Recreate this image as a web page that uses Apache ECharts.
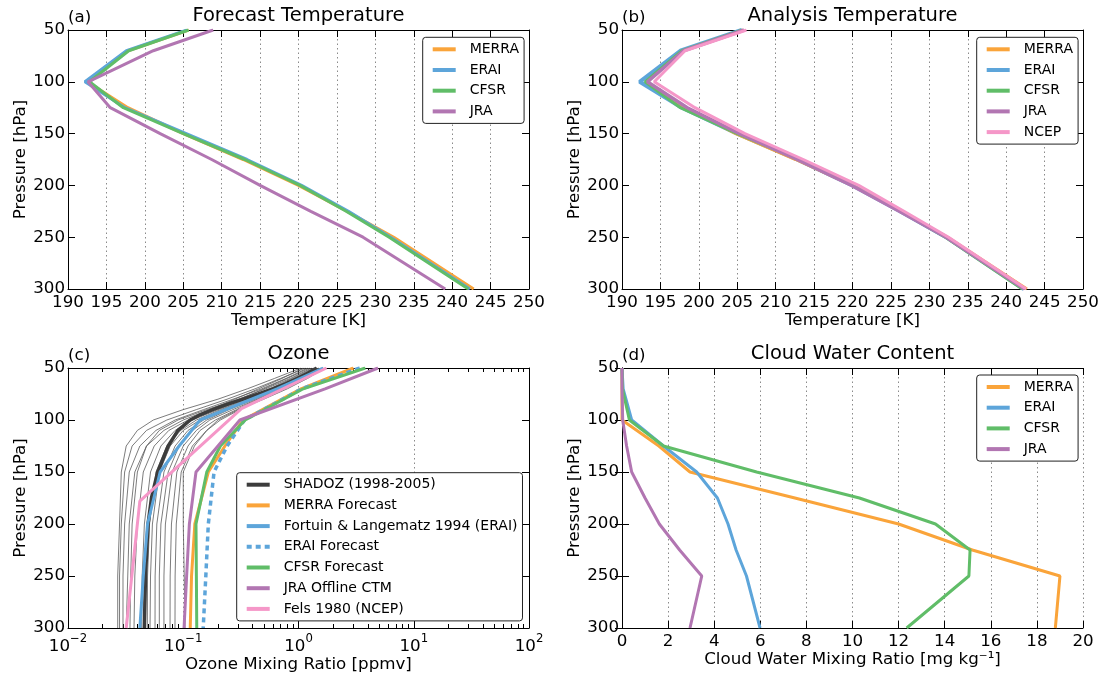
<!DOCTYPE html>
<html>
<head>
<meta charset="utf-8">
<script src="https://cdn.jsdelivr.net/npm/echarts@6/dist/echarts.min.js"></script>
<style>
html,body{margin:0;padding:0;background:#fff;}
#c{width:1102px;height:674px;}
</style>
</head>
<body>
<div id="c"></div>
<script>
// ---------------- DATA ----------------
const P_LEVELS = [50, 70, 100, 125, 150, 175, 200, 225, 250, 300];

// (a) Forecast temperature [K]
const FC_MERRA = [205.7, 197.8, 192.5, 197.8, 205.0, 212.8, 220.0, 226.3, 232.4, 242.8];
const FC_ERAI  = [205.5, 197.6, 192.2, 197.4, 205.4, 213.3, 220.4, 226.5, 232.0, 242.3];
const FC_CFSR  = [205.7, 197.9, 192.8, 197.2, 205.0, 213.0, 220.2, 226.2, 231.8, 242.1];
const FC_JRA   = [208.9, 201.1, 192.6, 195.5, 202.0, 208.7, 215.0, 221.6, 228.4, 239.1];

// (b) Analysis temperature [K]
const AN_MERRA = [205.8, 197.9, 193.2, 198.3, 204.8, 212.6, 220.0, 226.3, 232.4, 242.7];
const AN_ERAI  = [205.6, 197.6, 192.3, 197.8, 205.0, 212.8, 220.0, 226.2, 232.2, 242.3];
const AN_CFSR  = [205.7, 197.8, 193.0, 197.6, 205.0, 213.0, 220.2, 226.2, 232.1, 242.1];
const AN_JRA   = [205.9, 198.0, 193.3, 198.5, 205.3, 212.8, 219.9, 226.1, 232.2, 242.4];
const AN_NCEP  = [206.2, 198.2, 194.2, 199.5, 206.0, 213.6, 220.8, 226.7, 232.5, 242.6];

// (c) Ozone [ppmv]
const G_LEVELS = [50, 60, 70, 80, 90, 100, 110, 125, 150, 200, 250, 300];
const SHADOZ_PROFILES = [
  [1.05, 0.62, 0.36, 0.20, 0.10, 0.055, 0.040, 0.032, 0.029, 0.028, 0.027, 0.027],
  [1.15, 0.70, 0.42, 0.24, 0.13, 0.072, 0.048, 0.036, 0.031, 0.029, 0.028, 0.028],
  [1.20, 0.78, 0.48, 0.27, 0.15, 0.085, 0.058, 0.042, 0.034, 0.031, 0.030, 0.030],
  [1.10, 0.72, 0.45, 0.28, 0.17, 0.100, 0.068, 0.048, 0.038, 0.034, 0.033, 0.032],
  [1.30, 0.85, 0.52, 0.30, 0.16, 0.090, 0.062, 0.048, 0.040, 0.036, 0.035, 0.0345],
  [1.25, 0.80, 0.50, 0.31, 0.18, 0.110, 0.075, 0.056, 0.045, 0.040, 0.038, 0.0374],
  [1.35, 0.88, 0.56, 0.34, 0.20, 0.120, 0.085, 0.064, 0.052, 0.046, 0.044, 0.0436],
  [1.40, 0.92, 0.58, 0.36, 0.21, 0.130, 0.095, 0.072, 0.058, 0.051, 0.049, 0.0488],
  [1.45, 0.95, 0.62, 0.38, 0.22, 0.140, 0.100, 0.077, 0.062, 0.054, 0.052, 0.0515],
  [1.50, 1.00, 0.65, 0.40, 0.24, 0.150, 0.110, 0.085, 0.068, 0.059, 0.057, 0.0569],
  [1.55, 1.05, 0.68, 0.42, 0.25, 0.160, 0.120, 0.092, 0.074, 0.064, 0.062, 0.062],
  [1.60, 1.10, 0.72, 0.44, 0.27, 0.170, 0.130, 0.100, 0.080, 0.070, 0.068, 0.068],
  [1.50, 1.05, 0.70, 0.45, 0.29, 0.190, 0.140, 0.110, 0.088, 0.079, 0.077, 0.0768],
  [1.65, 1.15, 0.76, 0.48, 0.31, 0.210, 0.160, 0.120, 0.096, 0.087, 0.085, 0.0848],
  [1.70, 1.20, 0.80, 0.50, 0.30, 0.200, 0.160, 0.125, 0.100, 0.100, 0.102, 0.1035]
];
const SHADOZ_LEVELS = [50, 55, 60, 65, 70, 75, 80, 85, 90, 95, 100, 110, 125, 150, 175, 200, 250, 300];
const SHADOZ_MEAN   = [1.44, 1.2, 0.98, 0.78, 0.6, 0.45, 0.33, 0.24, 0.18, 0.14, 0.115, 0.09, 0.074, 0.06, 0.053, 0.0495, 0.047, 0.046];
const O3_LEVELS   = [50, 70, 100, 125, 150, 200, 250, 300];
const O3_MERRA    = [3.0, 1.05, 0.33, 0.23, 0.165, 0.126, 0.118, 0.115];
const O3_FORTUIN  = [1.64, 0.65, 0.14, 0.092, 0.063, 0.049, 0.045, 0.042];
const O3_ERAI_FC  = [3.4, 1.07, 0.34, 0.24, 0.185, 0.165, 0.157, 0.149];
const O3_CFSR     = [3.8, 1.1, 0.345, 0.21, 0.16, 0.129, 0.13, 0.131];
const O3_JRA      = [4.9, 1.7, 0.31, 0.2, 0.129, 0.113, 0.107, 0.1016];
const FELS_LEVELS = [50, 89, 178, 300];
const O3_FELS     = [1.75, 0.32, 0.042, 0.032];

// (d) Cloud water [mg/kg]
const CW_MERRA = [0, 0, 0, 1.6, 2.95, 7.5, 12.0, 15.2, 19.0, 18.8];
const CW_ERAI  = [0, 0.05, 0.42, 1.8, 3.24, 4.14, 4.6, 4.95, 5.4, 5.99];
const CW_CFSR  = [0, 0.02, 0.32, 1.8, 5.84, 10.3, 13.6, 15.1, 15.05, 12.35];
const CW_JRA   = [0, 0, 0.03, 0.2, 0.42, 1.0, 1.62, 2.5, 3.46, 2.95];

// tick settings
const T_TICKS = {min: 190, max: 250, interval: 5};
const P_TICKS = {min: 50, max: 300, interval: 50};
const CW_TICKS = {min: 0, max: 20, interval: 2};
const O3_RANGE = {min: 0.01, max: 100};

// ---------------- STYLE ----------------
const FONT = 'DejaVu Sans';
const C = {
  orange: '#FAA43A', blue: '#5DA5DA', green: '#60BD68',
  purple: '#B276B2', pink: '#F597C8', black: '#3c3c3c', grey: '#5a5a5a'
};
const GRIDS = [
  {left: 68, top: 30, width: 461, height: 259},
  {left: 622, top: 30, width: 461, height: 259},
  {left: 68, top: 368, width: 461, height: 260},
  {left: 622, top: 368, width: 461, height: 260}
];

function pairs(xs, ps) { return xs.map((x, i) => [x, ps[i]]); }

const axisLine = {show: true, lineStyle: {color: '#000', width: 1}};
const tick = {show: true, inside: true, length: 7, lineStyle: {color: '#000', width: 1}};
const labelStyle = {color: '#000', fontSize: 16.7, fontFamily: FONT};
const gridLine = {show: true, lineStyle: {color: '#8a8a8a', type: [1.5, 3], width: 1}};

function sup(v) {
  const e = Math.round(Math.log10(v));
  return '{b|10}{s|' + (e < 0 ? '\u2212' + (-e) : e) + '}';
}

const xAxes = [], yAxes = [];
function addX(gi, cfg, name, extraLabel) {
  const isLog = cfg.type === 'log';
  const base = Object.assign({gridIndex: gi, type: 'value'}, cfg);
  xAxes.push(Object.assign({}, base, {
    position: 'bottom',
    name: name, nameLocation: 'middle', nameGap: isLog ? 28 : 23,
    nameTextStyle: {color: '#000', fontSize: 16.7, fontFamily: FONT},
    axisLine, axisTick: tick,
    minorTick: isLog ? {show: true, splitNumber: 9, length: 4, lineStyle: {color: '#000'}} : {show: false},
    axisLabel: Object.assign({margin: 5}, labelStyle, extraLabel || {}),
    splitLine: gridLine
  }));
  xAxes.push(Object.assign({}, base, {
    position: 'top', axisLine, axisTick: tick,
    minorTick: isLog ? {show: true, splitNumber: 9, length: 4, lineStyle: {color: '#000'}} : {show: false},
    axisLabel: {show: false}, splitLine: {show: false}
  }));
}
function addY(gi) {
  const base = Object.assign({gridIndex: gi, type: 'value', inverse: true}, P_TICKS);
  yAxes.push(Object.assign({}, base, {
    position: 'left', name: 'Pressure [hPa]', nameLocation: 'middle', nameGap: 37,
    nameRotate: 90,
    nameTextStyle: {color: '#000', fontSize: 16.7, fontFamily: FONT},
    axisLine, axisTick: tick,
    axisLabel: Object.assign({margin: 3}, labelStyle), splitLine: {show: false}
  }));
  yAxes.push(Object.assign({}, base, {
    position: 'right', axisLine, axisTick: tick,
    axisLabel: {show: false}, splitLine: {show: false}
  }));
}
addX(0, T_TICKS, 'Temperature [K]');
addX(1, T_TICKS, 'Temperature [K]');
addX(2, Object.assign({type: 'log', logBase: 10}, O3_RANGE), 'Ozone Mixing Ratio [ppmv]', {
  formatter: sup,
  rich: {
    b: {fontSize: 16.7, fontFamily: FONT, color: '#000', lineHeight: 22, verticalAlign: 'bottom'},
    s: {fontSize: 11.7, fontFamily: FONT, color: '#000', lineHeight: 12, verticalAlign: 'top'}
  }
});
addX(3, CW_TICKS, 'Cloud Water Mixing Ratio [mg kg\u207B\u00B9]');
for (let g = 0; g < 4; g++) addY(g);

const series = [];
function line(g, name, xs, ps, color, width, extra) {
  series.push(Object.assign({
    type: 'line', name: name, xAxisIndex: 2 * g, yAxisIndex: 2 * g,
    data: pairs(xs, ps), symbol: 'none', showSymbol: false, smooth: false,
    lineStyle: {color: color, width: width}, itemStyle: {color: color},
    silent: true, animation: false
  }, extra || {}));
}
// (a)
line(0, 'MERRA', FC_MERRA, P_LEVELS, C.orange, 3);
line(0, 'ERAI', FC_ERAI, P_LEVELS, C.blue, 3);
line(0, 'CFSR', FC_CFSR, P_LEVELS, C.green, 3);
line(0, 'JRA', FC_JRA, P_LEVELS, C.purple, 3);
// (b)
line(1, 'ERAI', AN_ERAI, P_LEVELS, C.blue, 4);
line(1, 'MERRA', AN_MERRA, P_LEVELS, C.orange, 3);
line(1, 'CFSR', AN_CFSR, P_LEVELS, C.green, 3);
line(1, 'JRA', AN_JRA, P_LEVELS, C.purple, 3.5);
line(1, 'NCEP', AN_NCEP, P_LEVELS, C.pink, 3);
// (c)
SHADOZ_PROFILES.forEach((prof, i) => {
  line(2, 'SHADOZ station ' + (i + 1), prof, G_LEVELS, C.grey, 0.8, {z: 1});
});
line(2, 'SHADOZ (1998-2005)', SHADOZ_MEAN, SHADOZ_LEVELS, C.black, 3.5);
line(2, 'MERRA Forecast', O3_MERRA, O3_LEVELS, C.orange, 3);
line(2, 'Fortuin & Langematz 1994 (ERAI)', O3_FORTUIN, O3_LEVELS, C.blue, 3);
line(2, 'ERAI Forecast', O3_ERAI_FC, O3_LEVELS, C.blue, 3.5, {
  lineStyle: {color: C.blue, width: 3.5, type: [5, 4]}
});
line(2, 'CFSR Forecast', O3_CFSR, O3_LEVELS, C.green, 3);
line(2, 'JRA Offline CTM', O3_JRA, O3_LEVELS, C.purple, 3);
line(2, 'Fels 1980 (NCEP)', O3_FELS, FELS_LEVELS, C.pink, 3);
// (d)
line(3, 'MERRA', CW_MERRA, P_LEVELS, C.orange, 3);
line(3, 'ERAI', CW_ERAI, P_LEVELS, C.blue, 3);
line(3, 'CFSR', CW_CFSR, P_LEVELS, C.green, 3);
line(3, 'JRA', CW_JRA, P_LEVELS, C.purple, 3);

function legend(left, top, names) {
  return {
    orient: 'vertical', left: left, top: top, data: names,
    itemWidth: 23, itemHeight: 14, itemGap: 6.7,
    padding: [5, 5, 5, 8],
    borderColor: '#222', borderWidth: 1, borderRadius: 3,
    backgroundColor: '#fff',
    itemStyle: {opacity: 0},
    lineStyle: {width: 4},
    textStyle: {color: '#000', fontSize: 14, fontFamily: FONT, padding: [0, 0, 0, 9]},
    selectedMode: false
  };
}

function title(text, left, top, size, align) {
  return {
    text: text, left: left, top: top, padding: 0, textAlign: align,
    textStyle: {color: '#000', fontSize: size, fontWeight: 'normal', fontFamily: FONT}
  };
}

const option = {
  animation: false,
  backgroundColor: '#fff',
  grid: GRIDS,
  xAxis: xAxes,
  yAxis: yAxes,
  title: [
    title('Forecast Temperature', 298.5, 6, 19.5, 'center'),
    title('Analysis Temperature', 852.5, 6, 19.5, 'center'),
    title('Ozone', 298.5, 344, 19.5, 'center'),
    title('Cloud Water Content', 852.5, 344, 19.5, 'center'),
    title('(a)', 68, 9, 16.7, 'left'),
    title('(b)', 622, 9, 16.7, 'left'),
    title('(c)', 68, 347, 16.7, 'left'),
    title('(d)', 622, 347, 16.7, 'left')
  ],
  legend: [
    legend(422.7, 37.3, ['MERRA', 'ERAI', 'CFSR', 'JRA']),
    legend(976.7, 37.3, ['MERRA', 'ERAI', 'CFSR', 'JRA', 'NCEP']),
    legend(236.7, 472.7, ['SHADOZ (1998-2005)', 'MERRA Forecast', 'Fortuin & Langematz 1994 (ERAI)',
      'ERAI Forecast', 'CFSR Forecast', 'JRA Offline CTM', 'Fels 1980 (NCEP)']),
    legend(976.7, 375, ['MERRA', 'ERAI', 'CFSR', 'JRA'])
  ],
  series: series
};

const chart = echarts.init(document.getElementById('c'), null, {renderer: 'canvas'});
chart.setOption(option);
</script>
</body>
</html>
